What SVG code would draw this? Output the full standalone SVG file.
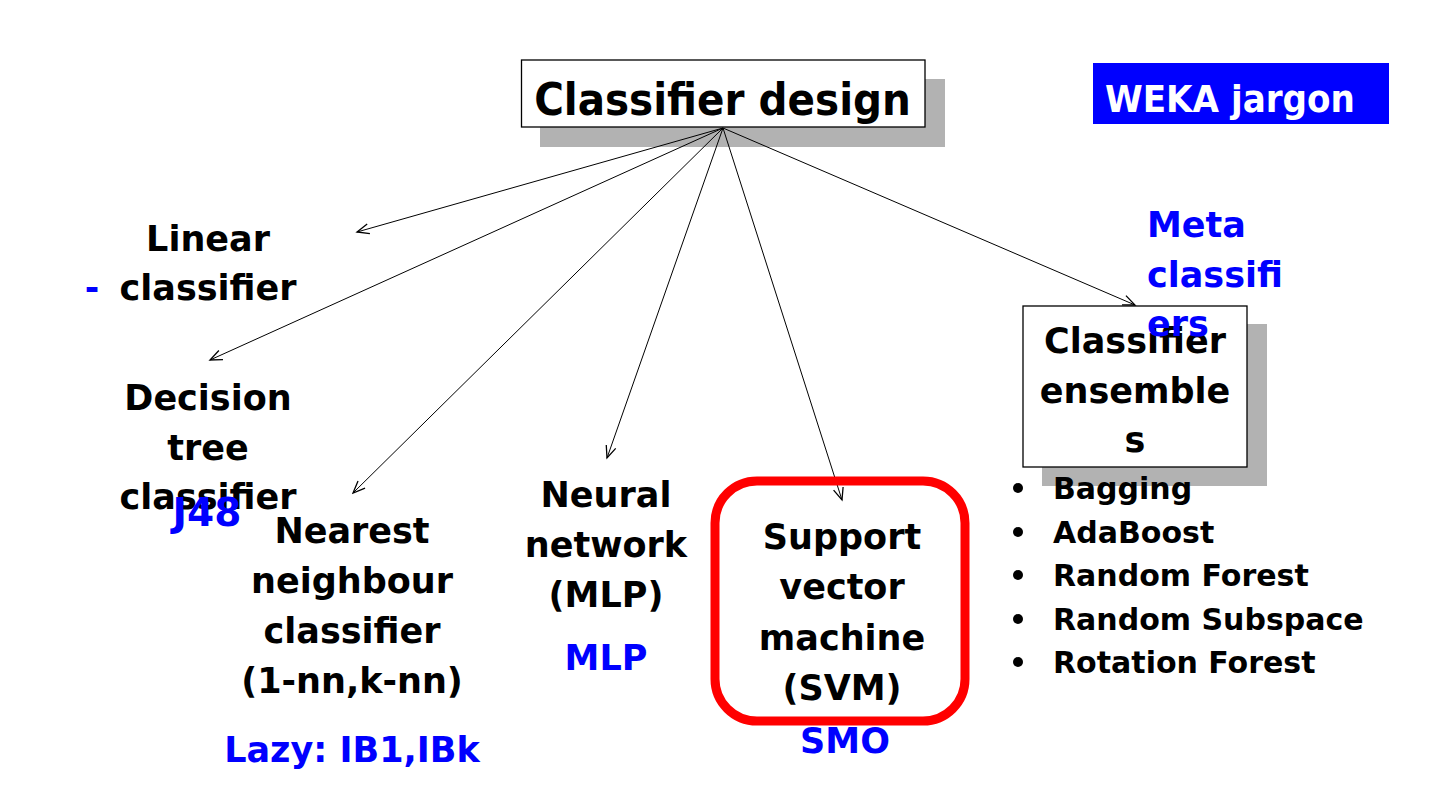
<svg xmlns="http://www.w3.org/2000/svg" width="1440" height="810" viewBox="0 0 1440 810">
<defs>
<style>
.lbl{font-family:"DejaVu Sans","Liberation Sans",sans-serif;font-weight:bold;font-size:35px;fill:#000;text-anchor:middle}
.blue{fill:#0000FF}
.title{font-family:"DejaVu Sans Condensed","DejaVu Sans","Liberation Sans",sans-serif;font-weight:bold;font-size:45px;fill:#000;text-anchor:middle}
.weka{font-family:"DejaVu Sans Condensed","DejaVu Sans","Liberation Sans",sans-serif;font-weight:bold;font-size:38px;fill:#fff}
.bul{font-family:"DejaVu Sans","Liberation Sans",sans-serif;font-weight:bold;font-size:30px;fill:#000}
.shadow{fill:#B2B2B2}
.box{fill:#fff;stroke:#000;stroke-width:1.3}
.conn{stroke:#000;stroke-width:1;fill:none;marker-end:url(#arr)}
</style>
<marker id="arr" viewBox="-14 -7 16 14" markerWidth="16" markerHeight="14" refX="0" refY="0" orient="auto" markerUnits="userSpaceOnUse">
<path d="M-12,-5 L0,0 L-12,5" fill="none" stroke="#000" stroke-width="1.3"/>
</marker>
</defs>
<rect width="1440" height="810" fill="#fff"/>

<g id="title">
<rect class="shadow" x="540" y="79" width="405" height="68"/>
<rect class="box" x="521.5" y="60" width="403.5" height="67"/>
<text class="title" x="722.5" y="115">Classifier design</text>
</g>

<g id="weka">
<rect x="1093" y="63" width="296" height="61" fill="#0000FF"/>
<text class="weka" x="1105" y="112">WEKA jargon</text>
</g>

<g id="connectors">
<line class="conn" x1="723" y1="128" x2="357" y2="232"/>
<line class="conn" x1="723" y1="128" x2="210" y2="360"/>
<line class="conn" x1="723" y1="128" x2="353" y2="493"/>
<line class="conn" x1="723" y1="128" x2="607" y2="458"/>
<line class="conn" x1="723" y1="128" x2="842" y2="500"/>
<line class="conn" x1="723" y1="128" x2="1135" y2="305"/>
</g>

<g id="linear">
<text class="lbl" x="208" y="251">Linear</text>
<text class="lbl" x="208" y="300">classifier</text>
<text class="lbl blue" x="92" y="300">-</text>
</g>

<g id="decision">
<text class="lbl" x="208" y="410">Decision</text>
<text class="lbl" x="208" y="460">tree</text>
<text class="lbl" x="208" y="509">classifier</text>
<text class="lbl blue" x="207" y="526" style="font-size:39px">J48</text>
</g>

<g id="nearest">
<text class="lbl" x="352" y="543">Nearest</text>
<text class="lbl" x="352" y="593">neighbour</text>
<text class="lbl" x="352" y="643">classifier</text>
<text class="lbl" x="352" y="693">(1-nn,k-nn)</text>
<text class="lbl blue" x="352" y="762">Lazy: IB1,IBk</text>
</g>

<g id="neural">
<text class="lbl" x="606" y="507">Neural</text>
<text class="lbl" x="606" y="557">network</text>
<text class="lbl" x="606" y="607">(MLP)</text>
<text class="lbl blue" x="606" y="670">MLP</text>
</g>

<g id="svm">
<rect x="715" y="481" width="250" height="240" rx="42" ry="42" fill="none" stroke="#FF0000" stroke-width="9"/>
<text class="lbl" x="842" y="549">Support</text>
<text class="lbl" x="842" y="599">vector</text>
<text class="lbl" x="842" y="650">machine</text>
<text class="lbl" x="842" y="700">(SVM)</text>
<text class="lbl blue" x="845" y="753">SMO</text>
</g>

<g id="ensembles">
<rect class="shadow" x="1042" y="324" width="225" height="162"/>
<rect class="box" x="1023" y="306" width="224" height="161"/>
<text class="lbl" x="1135" y="353">Classifier</text>
<text class="lbl" x="1135" y="403">ensemble</text>
<text class="lbl" x="1135" y="452">s</text>
</g>

<g id="meta">
<text class="lbl blue" x="1147" y="237" style="text-anchor:start">Meta</text>
<text class="lbl blue" x="1147" y="287" style="text-anchor:start">classifi</text>
<text class="lbl blue" x="1147" y="336" style="text-anchor:start">ers</text>
</g>

<g id="list">
<circle cx="1018" cy="488" r="5"/>
<circle cx="1018" cy="532" r="5"/>
<circle cx="1018" cy="575" r="5"/>
<circle cx="1018" cy="619" r="5"/>
<circle cx="1018" cy="662" r="5"/>
<text class="bul" x="1053" y="499">Bagging</text>
<text class="bul" x="1053" y="543">AdaBoost</text>
<text class="bul" x="1053" y="586">Random Forest</text>
<text class="bul" x="1053" y="630">Random Subspace</text>
<text class="bul" x="1053" y="673">Rotation Forest</text>
</g>
</svg>
